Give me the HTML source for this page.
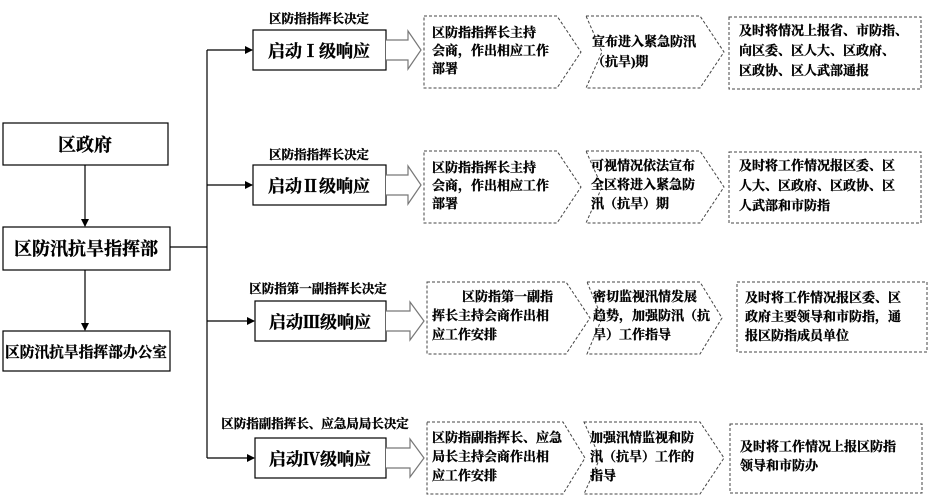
<!DOCTYPE html>
<html><head><meta charset="utf-8"><style>
html,body{margin:0;padding:0;background:#fff;}
svg{display:block;font-family:"Liberation Serif","Noto Serif CJK SC","Noto Sans CJK SC",serif;font-weight:bold;}
.t text{stroke:#000;stroke-width:0.35;}
</style></head><body>
<svg width="932" height="498" viewBox="0 0 932 498" xmlns="http://www.w3.org/2000/svg">
<defs><marker id="a" markerWidth="8" markerHeight="8" refX="7" refY="4" orient="auto" markerUnits="userSpaceOnUse"><path d="M0,0 L8,4 L0,8 z" fill="#000"/></marker></defs>
<g stroke="#000" stroke-width="1.2" fill="none">
<rect x="3" y="123" width="165" height="42"/>
<rect x="3" y="227" width="167" height="43"/>
<rect x="3" y="331" width="167" height="40"/>
<line x1="85" y1="165" x2="85" y2="226" marker-end="url(#a)"/>
<line x1="85" y1="270" x2="85" y2="330" marker-end="url(#a)"/>
<line x1="170" y1="247" x2="207" y2="247"/>
<line x1="207" y1="50" x2="207" y2="458"/>
<line x1="207" y1="50" x2="252" y2="50" marker-end="url(#a)"/>
<line x1="207" y1="185" x2="252" y2="185" marker-end="url(#a)"/>
<line x1="207" y1="321" x2="254" y2="321" marker-end="url(#a)"/>
<line x1="207" y1="458" x2="254" y2="458" marker-end="url(#a)"/>
<rect x="253" y="30" width="133" height="40"/>
<rect x="253" y="165" width="133" height="40"/>
<rect x="255" y="301" width="131" height="40"/>
<rect x="255" y="438" width="131" height="40"/>
</g>
<g stroke="#777" stroke-width="1.2" fill="#fff">
<path d="M386,40 H408 V31 L421,50 L408,69 V60 H386"/>
<path d="M386,175 H408 V166 L421,185 L408,204 V195 H386"/>
<path d="M386,311 H410 V302 L424,321 L410,340 V331 H386"/>
<path d="M386,448 H410 V439 L424,458 L410,477 V468 H386"/>
</g>
<g stroke="#444" stroke-width="1" stroke-dasharray="3,2" fill="none">
<path d="M424,16 H557 L581,52 L557,88 H424 Z"/>
<path d="M586,16 H700 L724,52 L700,88 H586 L602,52 Z"/>
<rect x="729" y="17" width="192" height="72"/>
<path d="M424,151 H557 L581,187 L557,223 H424 Z"/>
<path d="M586,151 H700 L724,187 L700,223 H586 L602,187 Z"/>
<rect x="729" y="152" width="192" height="71"/>
<path d="M427,282 H566 L590,318 L566,354 H427 Z"/>
<path d="M587,282 H700 L722,318 L700,354 H587 L602,318 Z"/>
<rect x="737" y="282" width="190" height="70"/>
<path d="M427,422 H563 L585,458 L563,494 H427 Z"/>
<path d="M584,422 H700 L724,458 L700,494 H584 L600,458 Z"/>
<rect x="730" y="424" width="192" height="69"/>
</g>
<g class="t" fill="#000" font-size="18" text-anchor="middle">
<text x="85" y="151">区政府</text>
<text x="86" y="255">区防汛抗旱指挥部</text>
<text x="86" y="357" font-size="15" textLength="162" lengthAdjust="spacingAndGlyphs">区防汛抗旱指挥部办公室</text>
<text x="319" y="57" font-size="17">启动Ⅰ级响应</text>
<text x="319" y="192" font-size="17">启动Ⅱ级响应</text>
<text x="320" y="328" font-size="17">启动Ⅲ级响应</text>
<text x="320" y="465" font-size="17">启动Ⅳ级响应</text>
</g>
<g class="t" fill="#000" font-size="12.5" text-anchor="middle">
<text x="319" y="23">区防指指挥长决定</text>
<text x="319" y="159">区防指指挥长决定</text>
<text x="318" y="293">区防指第一副指挥长决定</text>
<text x="315" y="428">区防指副指挥长、应急局局长决定</text>
</g>
<g class="t" fill="#000" font-size="13">
<text x="432" y="37">区防指指挥长主持</text><text x="432" y="55">会商，作出相应工作</text><text x="432" y="73">部署</text>
<text x="592" y="46">宣布进入紧急防汛</text><text x="592" y="66">（抗旱)期</text>
<text x="739" y="35">及时将情况上报省、市防指、</text><text x="739" y="55">向区委、区人大、区政府、</text><text x="739" y="75">区政协、区人武部通报</text>
<text x="432" y="172">区防指指挥长主持</text><text x="432" y="190">会商，作出相应工作</text><text x="432" y="208">部署</text>
<text x="591" y="170">可视情况依法宣布</text><text x="591" y="189">全区将进入紧急防</text><text x="591" y="208">汛（抗旱）期</text>
<text x="739" y="170">及时将工作情况报区委、区</text><text x="739" y="190">人大、区政府、区政协、区</text><text x="739" y="210">人武部和市防指</text>
<text x="462" y="301">区防指第一副指</text><text x="432" y="320">挥长主持会商作出相</text><text x="432" y="339">应工作安排</text>
<text x="593" y="301">密切监视汛情发展</text><text x="593" y="320">趋势，加强防汛（抗</text><text x="593" y="339">旱）工作指导</text>
<text x="745" y="302">及时将工作情况报区委、区</text><text x="745" y="321">政府主要领导和市防指，通</text><text x="745" y="340">报区防指成员单位</text>
<text x="432" y="442">区防指副指挥长、应急</text><text x="432" y="461">局长主持会商作出相</text><text x="432" y="480">应工作安排</text>
<text x="590" y="442">加强汛情监视和防</text><text x="590" y="461">汛（抗旱）工作的</text><text x="590" y="480">指导</text>
<text x="740" y="451">及时将工作情况上报区防指</text><text x="740" y="470">领导和市防办</text>
</g>
</svg>
</body></html>
